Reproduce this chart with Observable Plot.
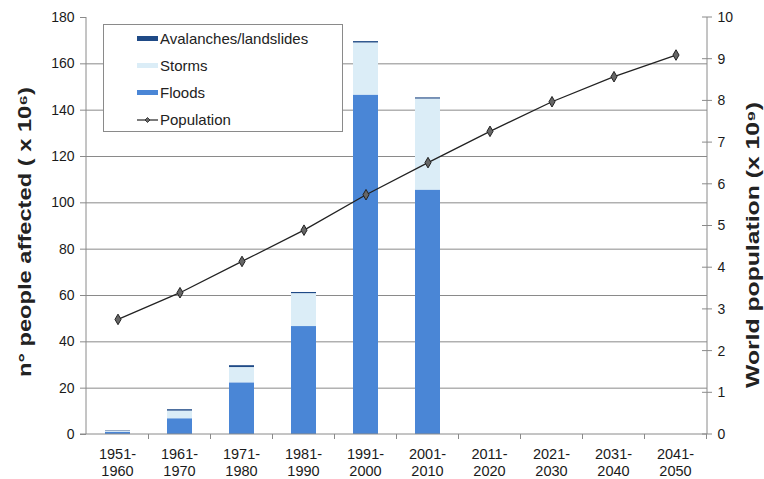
<!DOCTYPE html>
<html><head><meta charset="utf-8">
<script src="https://cdn.jsdelivr.net/npm/d3@7"></script>
<script src="https://cdn.jsdelivr.net/npm/@observablehq/plot@0.6"></script>
<style>
body{margin:0;background:#fff;font-family:"Liberation Sans",Arial,sans-serif;}
#wrap{position:relative;width:764px;height:479px;}
#legend{position:absolute;left:103px;top:24px;width:238px;height:106px;background:#fff;border:1px solid #8a8a8a;font-size:15px;color:#222;}
.row{position:absolute;left:33px;height:16px;display:flex;align-items:center;white-space:nowrap;}
.sw{width:21px;height:5px;margin-right:2px;}
</style></head>
<body><div id="wrap"><div id="chart"></div>
<div id="legend"></div></div>
<script>
const periods = ["1951-1960","1961-1970","1971-1980","1981-1990","1991-2000","2001-2010","2011-2020","2021-2030","2031-2040","2041-2050"];
const floods = [1.0, 6.8, 22.3, 46.6, 146.5, 105.5, 0, 0, 0, 0];
const storms = [0.3, 3.3, 6.6, 14.2, 22.5, 39.3, 0, 0, 0, 0];
const avalanches = [0.2, 0.6, 0.8, 0.5, 0.6, 0.5, 0, 0, 0, 0];
const population = [2.76, 3.40, 4.15, 4.90, 5.75, 6.52, 7.27, 7.98, 8.58, 9.10];
const yTicks = [0,20,40,60,80,100,120,140,160,180];
const popTicks = [0,1,2,3,4,5,6,7,8,9,10];
const types = ["Floods","Storms","Avalanches/landslides"];
const colors = ["#4a86d6","#dbedf7","#1f4a86"];
const popMax = 10, yMax = 180, k = yMax / popMax;

const stackData = [];
periods.forEach((p,i)=>{
  stackData.push({period:p,type:"Floods",value:floods[i]});
  stackData.push({period:p,type:"Storms",value:storms[i]});
  stackData.push({period:p,type:"Avalanches/landslides",value:avalanches[i]});
});
const popData = periods.map((p,i)=>({period:p,pop:population[i]}));

const decor = (index, scales, values, dim) => {
  const g = d3.create("svg:g");
  const x = scales.x, y = scales.y;
  const bw = x.bandwidth ? x.bandwidth() : 0;
  const step = x.step ? x.step() : bw;
  const L = dim.marginLeft, R = dim.width - dim.marginRight;
  const T = dim.marginTop, B = dim.height - dim.marginBottom;
  const stroke = "#8a8a8a";
  g.append("line").attr("x1",L).attr("x2",L).attr("y1",y(yMax)).attr("y2",B).attr("stroke",stroke);
  g.append("line").attr("x1",R).attr("x2",R).attr("y1",y(yMax)).attr("y2",B).attr("stroke",stroke);
  g.append("line").attr("x1",L-6).attr("x2",R).attr("y1",B).attr("y2",B).attr("stroke",stroke);
  periods.forEach((p,i)=>{
    const xb = x(p) + bw/2 + step/2;
    g.append("line").attr("x1",xb).attr("x2",xb).attr("y1",B).attr("y2",B+5).attr("stroke",stroke);
    const xc = x(p) + bw/2;
    const parts = p.split("-");
    const t = g.append("text").attr("text-anchor","middle").attr("font-size",14.5).attr("fill","#1a1a1a");
    t.append("tspan").attr("x",xc).attr("y",B+25).text(parts[0] + "-");
    t.append("tspan").attr("x",xc).attr("y",B+42).text(parts[1]);
  });
  popTicks.forEach(t=>{
    const yy = y(t*k);
    g.append("line").attr("x1",R-5).attr("x2",R+5).attr("y1",yy).attr("y2",yy).attr("stroke",stroke);
  });
  g.append("text").attr("transform",`translate(31,232) rotate(-90)`)
    .attr("text-anchor","middle").attr("font-size",18).attr("font-weight","bold").attr("fill","#222")
    .attr("textLength",290).attr("lengthAdjust","spacingAndGlyphs")
    .text("n° people affected ( x 10⁶)");
  g.append("text").attr("transform",`translate(759,245) rotate(-90)`)
    .attr("text-anchor","middle").attr("font-size",18).attr("font-weight","bold").attr("fill","#222")
    .attr("textLength",286).attr("lengthAdjust","spacingAndGlyphs")
    .text("World population (x 10⁹)");
  return g.node();
};

const chart = Plot.plot({
  width: 764, height: 479,
  marginLeft: 86, marginRight: 57, marginTop: 17, marginBottom: 45,
  style: {fontFamily: '"Liberation Sans", Arial, sans-serif', color: "#1a1a1a", background: "#fff"},
  x: {domain: periods, paddingInner: 0.6, paddingOuter: 0.3, axis: null},
  y: {domain: [0, yMax], axis: null},
  color: {domain: types, range: colors},
  marks: [
    Plot.ruleY(yTicks.filter(t => t > 0 && t < yMax), {stroke: "#8a8a8a", strokeWidth: 1}),
    Plot.barY(stackData, {x: "period", y: "value", fill: "type", order: null}),
    decor,
    Plot.axisY({ticks: yTicks, anchor: "left", tickSize: 6, tickPadding: 6, fontSize: 14, stroke: "#8a8a8a", label: null}),
    Plot.axisY({ticks: popTicks.map(t => t*k), anchor: "right", tickSize: 0, tickPadding: 10, fontSize: 14, tickFormat: d => d3.format("d")(Math.round(d/k)), label: null}),
    Plot.line(popData, {x: "period", y: d => d.pop*k, stroke: "#222", strokeWidth: 1.3}),
    Plot.dot(popData, {x: "period", y: d => d.pop*k, r: 3.2, symbol: "diamond", fill: "#666", stroke: "#222", strokeWidth: 1})
  ]
});
document.getElementById("chart").appendChild(chart);

const legendItems = [
  {label: "Avalanches/landslides", color: colors[2]},
  {label: "Storms", color: colors[1]},
  {label: "Floods", color: colors[0]},
  {label: "Population", color: null}
];
const lg = document.getElementById("legend");
legendItems.forEach((it, i) => {
  const row = document.createElement("div");
  row.className = "row";
  row.style.top = (5 + i*27.2) + "px";
  if (it.color) {
    row.innerHTML = `<div class="sw" style="background:${it.color}"></div><span>${it.label}</span>`;
  } else {
    row.innerHTML = `<svg width="21" height="8" style="margin-right:2px"><line x1="0" x2="21" y1="4" y2="4" stroke="#222" stroke-width="1.2"/><path d="M10.5 1.5 L13 4 L10.5 6.5 L8 4 Z" fill="#666" stroke="#222" stroke-width="0.8"/></svg><span>${it.label}</span>`;
  }
  lg.appendChild(row);
});
</script></body></html>
